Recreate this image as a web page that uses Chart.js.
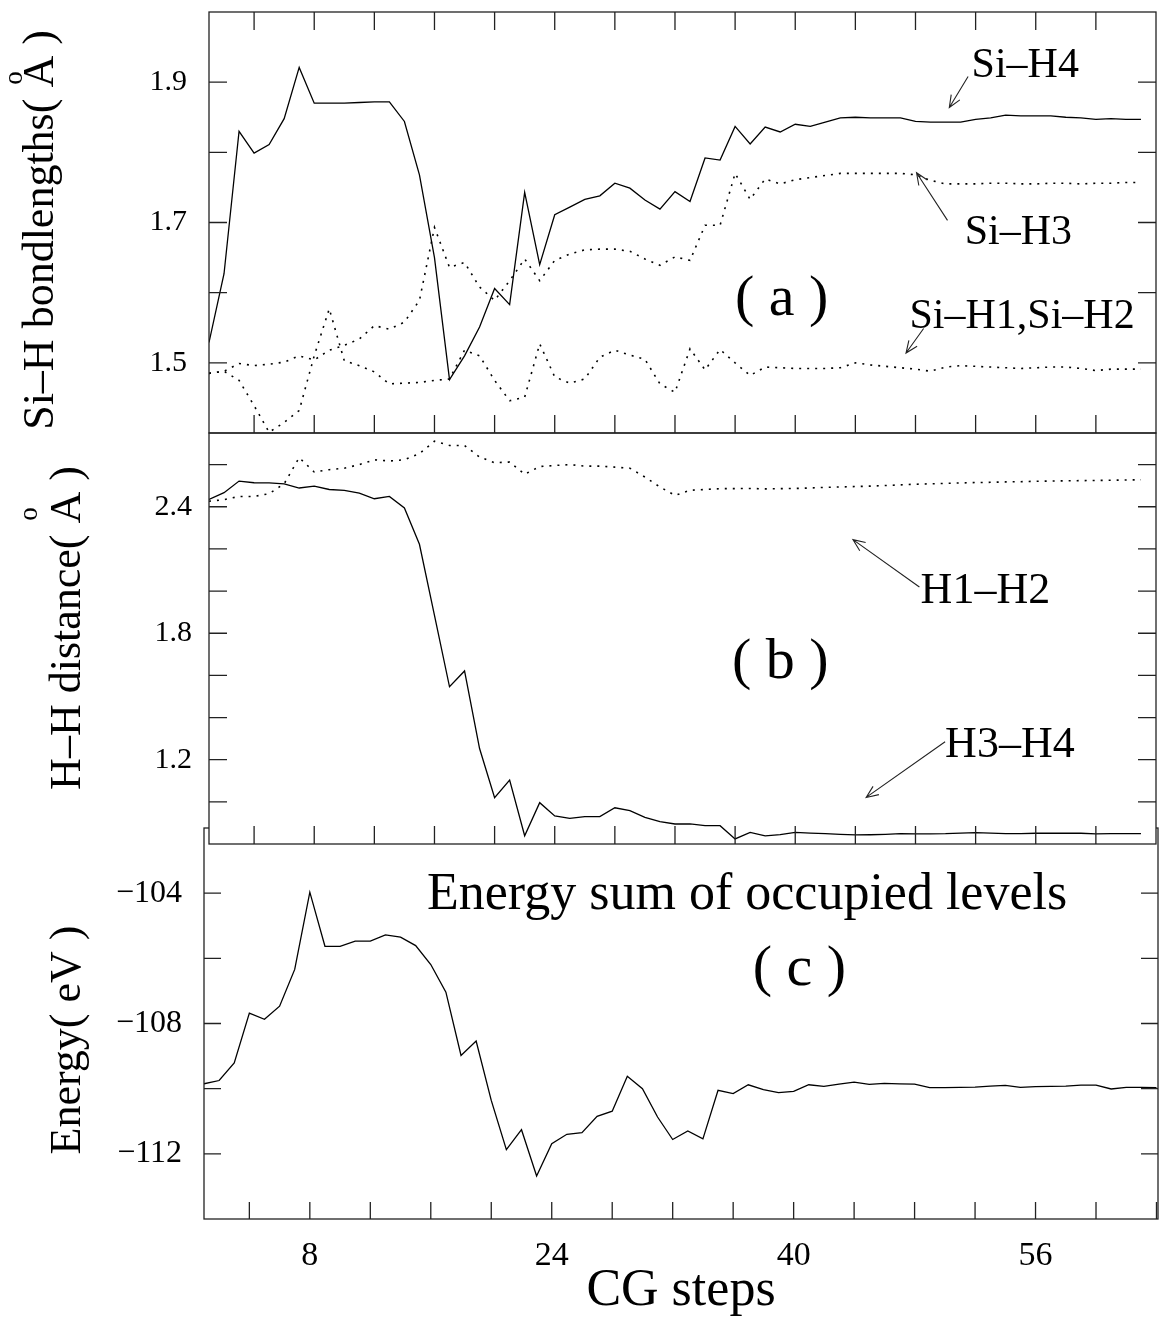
<!DOCTYPE html>
<html>
<head>
<meta charset="utf-8">
<script src="https://cdn.jsdelivr.net/npm/chart.js@4.4.1/dist/chart.umd.min.js"></script>
<style>
  html, body { margin: 0; padding: 0; background: #fff; }
  #wrap { position: relative; width: 1174px; height: 1323px; }
  #wrap canvas { position: absolute; left: 0; top: 0; }
</style>
</head>
<body>
<div id="wrap">
  <canvas id="panelC" width="1174" height="1323"></canvas>
  <canvas id="panelB" width="1174" height="1323"></canvas>
  <canvas id="panelA" width="1174" height="1323"></canvas>
</div>
<script>
// CG steps (x values)
const stepsAB = [1,2,3,4,5,6,7,8,9,10,11,12,13,14,15,16,17,18,19,20,21,22,23,24,25,26,27,28,29,30,31,32,33,34,35,36,37,38,39,40,41,42,43,44,45,46,47,48,49,50,51,52,53,54,55,56,57,58,59,60,61,62,63];
const stepsC = [1,2,3,4,5,6,7,8,9,10,11,12,13,14,15,16,17,18,19,20,21,22,23,24,25,26,27,28,29,30,31,32,33,34,35,36,37,38,39,40,41,42,43,44,45,46,47,48,49,50,51,52,53,54,55,56,57,58,59,60,61,62,63,64];

// (a) Si-H bond lengths (A)
const siH4 = [1.529,1.627,1.830,1.799,1.811,1.848,1.921,1.870,1.870,1.870,1.871,1.872,1.872,1.844,1.768,1.650,1.476,1.510,1.551,1.606,1.583,1.743,1.640,1.711,1.722,1.733,1.738,1.756,1.749,1.732,1.719,1.744,1.730,1.792,1.789,1.837,1.812,1.836,1.829,1.840,1.837,1.843,1.849,1.850,1.849,1.849,1.849,1.844,1.843,1.843,1.843,1.847,1.849,1.853,1.852,1.852,1.852,1.850,1.849,1.847,1.848,1.847,1.847];
const siH3 = [1.485,1.488,1.499,1.496,1.498,1.501,1.510,1.504,1.518,1.525,1.534,1.553,1.548,1.558,1.589,1.693,1.636,1.643,1.608,1.589,1.617,1.648,1.617,1.646,1.655,1.661,1.662,1.662,1.659,1.648,1.639,1.651,1.646,1.696,1.696,1.770,1.733,1.762,1.755,1.761,1.764,1.767,1.770,1.770,1.770,1.770,1.770,1.768,1.760,1.755,1.755,1.755,1.756,1.756,1.755,1.755,1.756,1.756,1.755,1.756,1.756,1.757,1.757];
const siH12 = [1.485,1.488,1.475,1.439,1.401,1.415,1.432,1.510,1.577,1.503,1.496,1.487,1.470,1.471,1.472,1.475,1.477,1.518,1.510,1.475,1.446,1.451,1.527,1.480,1.471,1.477,1.508,1.518,1.511,1.505,1.470,1.458,1.520,1.490,1.519,1.500,1.482,1.494,1.493,1.492,1.492,1.492,1.493,1.500,1.497,1.495,1.493,1.491,1.488,1.494,1.496,1.495,1.494,1.493,1.492,1.493,1.494,1.494,1.492,1.489,1.491,1.491,1.491];

// (b) H-H distances (A)
const h1h2 = [2.426,2.434,2.449,2.449,2.462,2.509,2.633,2.565,2.576,2.583,2.600,2.623,2.617,2.623,2.652,2.711,2.691,2.691,2.636,2.609,2.612,2.554,2.591,2.596,2.600,2.593,2.593,2.588,2.583,2.541,2.494,2.454,2.478,2.482,2.486,2.486,2.487,2.485,2.486,2.487,2.489,2.492,2.494,2.496,2.498,2.501,2.504,2.507,2.509,2.511,2.513,2.515,2.516,2.518,2.519,2.521,2.522,2.523,2.524,2.525,2.526,2.527,2.528];
const h3h4 = [2.435,2.467,2.522,2.514,2.513,2.509,2.489,2.498,2.482,2.478,2.465,2.438,2.449,2.394,2.222,1.885,1.546,1.621,1.253,1.020,1.103,0.839,0.996,0.933,0.922,0.930,0.930,0.972,0.958,0.926,0.906,0.895,0.895,0.887,0.887,0.824,0.855,0.839,0.844,0.855,0.852,0.849,0.846,0.843,0.844,0.846,0.849,0.848,0.848,0.849,0.852,0.854,0.852,0.849,0.849,0.851,0.851,0.852,0.851,0.848,0.849,0.849,0.849];

// (c) energy sum of occupied levels (eV)
const energy = [-109.85,-109.75,-109.21,-107.68,-107.87,-107.47,-106.34,-103.97,-105.63,-105.63,-105.47,-105.47,-105.28,-105.35,-105.61,-106.19,-107.04,-108.98,-108.54,-110.36,-111.87,-111.26,-112.68,-111.69,-111.40,-111.35,-110.85,-110.69,-109.62,-110.00,-110.87,-111.56,-111.30,-111.54,-110.05,-110.15,-109.88,-110.03,-110.12,-110.08,-109.88,-109.93,-109.86,-109.80,-109.87,-109.84,-109.85,-109.86,-109.97,-109.97,-109.96,-109.95,-109.92,-109.90,-109.96,-109.94,-109.93,-109.92,-109.89,-109.89,-110.01,-109.96,-109.96,-109.97];

// ticks
const xTicks = [4,8,12,16,20,24,28,32,36,40,44,48,52,56,60,64];
const xLabelVals = [8,24,40,56];
const xLabelText = ['8','24','40','56'];
const yTicksA = [1.5,1.6,1.7,1.8,1.9];
const yLabelValsA = [1.5,1.7,1.9];
const yLabelTextA = ['1.5','1.7','1.9'];
const yTicksB = [1.0,1.2,1.4,1.6,1.8,2.0,2.2,2.4,2.6];
const yLabelValsB = [1.2,1.8,2.4];
const yLabelTextB = ['1.2','1.8','2.4'];
const yTicksC = [-112,-110,-108,-106,-104];
const yLabelValsC = [-112,-108,-104];
const yLabelTextC = ['\u2212112','\u2212108','\u2212104'];

const W = 1174, H = 1323;
const FONT = '"Liberation Serif", "Times New Roman", serif';
Chart.defaults.font.family = FONT;
Chart.defaults.color = '#000';

function labelFor(v, vals, texts) {
  const i = vals.findIndex(t => Math.abs(t - v) < 1e-6);
  return i >= 0 ? texts[i] : '';
}

function pts(xs, ys) {
  return ys.map((y, i) => ({ x: xs[i], y: y }));
}

function solid(data) {
  return { data, borderColor: '#000', borderWidth: 1.3, pointRadius: 0, tension: 0, fill: false };
}
function dotted(data) {
  return { data, borderColor: '#000', borderWidth: 1.6, borderDash: [2, 6], pointRadius: 0, tension: 0, fill: false };
}

function drawArrow(ctx, x1, y1, x2, y2) {
  const ang = Math.atan2(y2 - y1, x2 - x1);
  const h = 13, spread = 0.4;
  ctx.moveTo(x1, y1); ctx.lineTo(x2, y2);
  ctx.moveTo(x2 - h * Math.cos(ang - spread), y2 - h * Math.sin(ang - spread));
  ctx.lineTo(x2, y2);
  ctx.lineTo(x2 - h * Math.cos(ang + spread), y2 - h * Math.sin(ang + spread));
}

// frame, inward ticks, annotations and the rotated y titles
const framePlugin = {
  id: 'frameTicks',
  beforeDraw(chart, args, opts) {
    if (!opts.fill) return;
    const { ctx, chartArea: a } = chart;
    ctx.save();
    ctx.fillStyle = '#fff';
    ctx.fillRect(a.left, a.top, a.right - a.left, a.bottom - a.top);
    ctx.restore();
  },
  afterDraw(chart, args, opts) {
    const { ctx, chartArea: a, scales: { x, y } } = chart;
    ctx.save();
    ctx.strokeStyle = '#222';
    ctx.lineWidth = 1.3;
    ctx.strokeRect(a.left, a.top, a.right - a.left, a.bottom - a.top);

    const L = opts.tickLen;
    ctx.beginPath();
    x.ticks.forEach(t => {
      const px = x.getPixelForValue(t.value);
      if (px <= a.left + 1 || px >= a.right - 1) return;
      ctx.moveTo(px, a.bottom); ctx.lineTo(px, a.bottom - L);
      if (opts.topTicks) { ctx.moveTo(px, a.top); ctx.lineTo(px, a.top + L); }
    });
    y.ticks.forEach(t => {
      const py = y.getPixelForValue(t.value);
      ctx.moveTo(a.left, py); ctx.lineTo(a.left + L, py);
      ctx.moveTo(a.right, py); ctx.lineTo(a.right - L, py);
    });
    ctx.stroke();

    // arrows
    ctx.lineWidth = 1.1;
    ctx.beginPath();
    (opts.arrows || []).forEach(ar => {
      drawArrow(ctx, x.getPixelForValue(ar.from[0]), y.getPixelForValue(ar.from[1]),
                     x.getPixelForValue(ar.to[0]), y.getPixelForValue(ar.to[1]));
    });
    ctx.stroke();

    // text labels inside the panel
    ctx.fillStyle = '#000';
    ctx.textBaseline = 'alphabetic';
    (opts.labels || []).forEach(lb => {
      ctx.font = lb.size + 'px ' + FONT;
      ctx.textAlign = lb.align || 'left';
      ctx.fillText(lb.text, x.getPixelForValue(lb.x), y.getPixelForValue(lb.y));
    });

    // rotated y title with the angstrom ring drawn above the A
    const t = opts.yTitle;
    if (t) {
      ctx.save();
      ctx.translate(t.x, t.y);
      ctx.rotate(-Math.PI / 2);
      ctx.font = t.size + 'px ' + FONT;
      ctx.textAlign = 'left';
      const full = ctx.measureText(t.text).width;
      ctx.fillText(t.text, -full / 2, 0);
      if (t.ring) {
        const idx = t.text.lastIndexOf('A');
        const pre = ctx.measureText(t.text.slice(0, idx)).width;
        const aw = ctx.measureText('A').width;
        ctx.font = Math.round(t.size * 0.62) + 'px ' + FONT;
        ctx.textAlign = 'center';
        ctx.textBaseline = 'middle';
        ctx.fillText('o', -full / 2 + pre + aw * 0.3, -t.ring);
      }
      ctx.restore();
    }
    ctx.restore();
  }
};

function makePanel(id, box, xRange, yRange, yTicks, yVals, yTexts, yPad, yFont, datasets, extra) {
  const xAxisH = extra.xAxisH || 0;
  return new Chart(document.getElementById(id), {
    type: 'line',
    data: { datasets },
    plugins: [framePlugin],
    options: {
      responsive: false,
      animation: false,
      events: [],
      layout: { padding: { left: 0, top: box.top, right: W - box.right, bottom: H - box.bottom - xAxisH } },
      plugins: {
        legend: { display: false },
        tooltip: { enabled: false },
        frameTicks: {
          fill: extra.fill, topTicks: extra.topTicks, tickLen: extra.tickLen || 18,
          labels: extra.labels, arrows: extra.arrows, yTitle: extra.yTitle
        }
      },
      scales: {
        x: {
          type: 'linear', min: xRange[0], max: xRange[1],
          afterBuildTicks: s => { s.ticks = xTicks.map(v => ({ value: v })); },
          ticks: {
            display: !!extra.xLabels, autoSkip: false, maxRotation: 0, minRotation: 0,
            padding: 17, font: { size: 34 }, color: '#000',
            callback: v => labelFor(v, xLabelVals, xLabelText)
          },
          grid: { display: false, drawTicks: false },
          border: { display: false },
          title: extra.xTitle ? {
            display: true, text: extra.xTitle, font: { size: 52 }, color: '#000',
            padding: { top: 0, bottom: 0 }
          } : { display: false },
          afterFit: s => { s.height = xAxisH; s.paddingLeft = 0; s.paddingRight = 0; }
        },
        y: {
          type: 'linear', min: yRange[0], max: yRange[1],
          afterBuildTicks: s => { s.ticks = yTicks.map(v => ({ value: v })); },
          ticks: {
            autoSkip: false, padding: yPad, font: { size: yFont }, color: '#000',
            callback: v => labelFor(v, yVals, yTexts)
          },
          grid: { display: false, drawTicks: false },
          border: { display: false },
          afterFit: s => { s.width = box.left; s.paddingTop = 0; s.paddingBottom = 0; }
        }
      }
    }
  });
}

// (c) energy, drawn first so (b) covers its top edge
makePanel('panelC', { left: 204, right: 1158, top: 828, bottom: 1219 }, [1, 64.1], [-114, -102],
  yTicksC, yLabelValsC, yLabelTextC, 22, 32,
  [solid(pts(stepsC, energy))],
  {
    xAxisH: H - 1219, xLabels: true, xTitle: 'CG steps', tickLen: 17,
    labels: [
      { text: 'Energy sum of occupied levels', x: 15.75, y: -104.5, size: 52 },
      { text: '( c )', x: 40.38, y: -106.83, size: 58, align: 'center' }
    ],
    yTitle: { text: 'Energy( eV )', x: 80, y: 1040, size: 44 }
  });

// (b) H-H distance
makePanel('panelB', { left: 209, right: 1156, top: 433, bottom: 844 }, [1, 64], [0.8, 2.75],
  yTicksB, yLabelValsB, yLabelTextB, 17, 30,
  [dotted(pts(stepsAB, h1h2)), solid(pts(stepsAB, h3h4))],
  {
    fill: true,
    labels: [
      { text: 'H1\u2013H2', x: 48.34, y: 1.942, size: 44 },
      { text: '( b )', x: 39.0, y: 1.587, size: 58, align: 'center' },
      { text: 'H3\u2013H4', x: 49.97, y: 1.214, size: 44 }
    ],
    arrows: [
      { from: [48.26, 2.019], to: [43.84, 2.244] },
      { from: [49.97, 1.285], to: [44.72, 1.021] }
    ],
    yTitle: { text: 'H\u2013H distance( A )', x: 80, y: 628, size: 44, ring: 50 }
  });

// (a) Si-H bond lengths
makePanel('panelA', { left: 209, right: 1156, top: 12, bottom: 433 }, [1, 64], [1.4, 2.0],
  yTicksA, yLabelValsA, yLabelTextA, 22, 30,
  [solid(pts(stepsAB, siH4)), dotted(pts(stepsAB, siH3)), dotted(pts(stepsAB, siH12))],
  {
    topTicks: true,
    labels: [
      { text: 'Si\u2013H4', x: 51.73, y: 1.9067, size: 42 },
      { text: 'Si\u2013H3', x: 51.27, y: 1.670, size: 42 },
      { text: '( a )', x: 39.1, y: 1.568, size: 58, align: 'center' },
      { text: 'Si\u2013H1,Si\u2013H2', x: 47.6, y: 1.549, size: 42 }
    ],
    arrows: [
      { from: [51.5, 1.908], to: [50.25, 1.864] },
      { from: [50.13, 1.703], to: [48.07, 1.771] },
      { from: [48.54, 1.549], to: [47.37, 1.514] }
    ],
    yTitle: { text: 'Si\u2013H bondlengths( A )', x: 53, y: 230, size: 44, ring: 38 }
  });
</script>
</body>
</html>
